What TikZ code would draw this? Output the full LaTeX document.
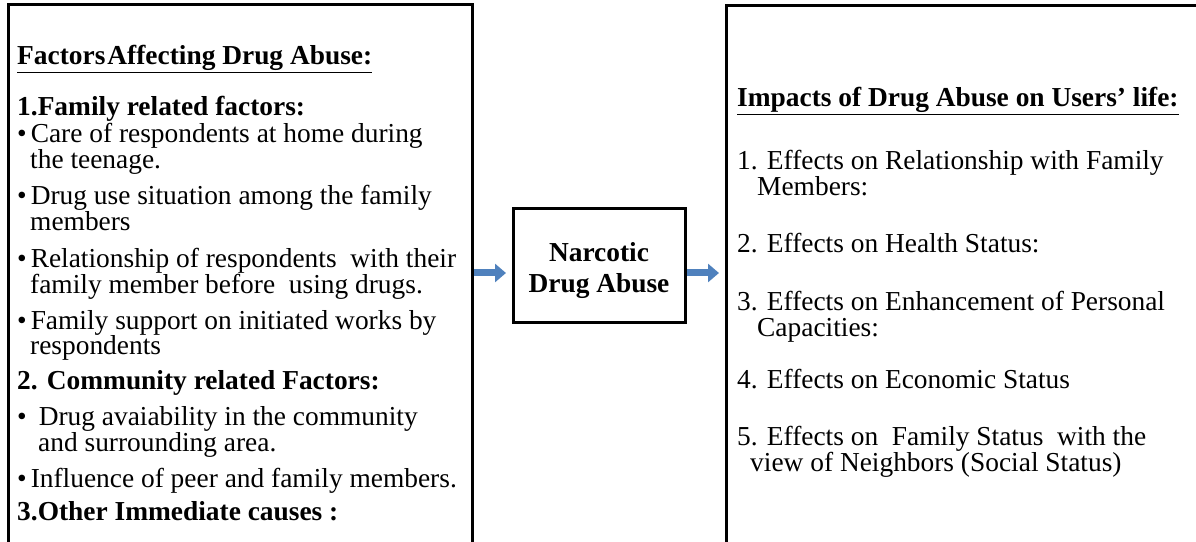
\documentclass[tikz,border=0pt]{standalone}
\usepackage{fontspec}
\setmainfont{Liberation Serif}
\usetikzlibrary{arrows.meta}
\definecolor{arrowblue}{HTML}{4F81BD}
\tikzset{
  txt/.style={anchor=base west, inner sep=0pt, font=\fontsize{27.4}{26}\selectfont},
  btxt/.style={txt, font=\fontsize{27.4}{26}\selectfont\bfseries},
  frame/.style={draw=black, line width=3pt},
  blockarrow/.style={draw=arrowblue, line width=7pt, -{Triangle[length=11pt,width=18pt]}}
}
\begin{document}
\begin{tikzpicture}[x=1pt,y=1pt]
\useasboundingbox (0,0) rectangle (1196,541);
\clip (0,0) rectangle (1196,541);
% outer frames (cut off by the picture edges)
\coordinate (lbtl) at (8,536);
\coordinate (lbbr) at (472,-20);
\coordinate (rbtl) at (726,535);
\coordinate (rbbr) at (1220,-20);
\draw[frame] (lbtl) rectangle (lbbr);
\draw[frame] (rbtl) rectangle (rbbr);
% centre box
\node[frame, minimum width=172pt, minimum height=114pt, inner sep=0pt] (mid) at (599,275) {};
\node[btxt, anchor=base] (n1) at (599,279) {Narcotic};
\node[btxt, anchor=base] (n2) at (599,248) {Drug Abuse};
% arrows
\coordinate (la1) at (474,268);
\coordinate (la2) at (506,268);
\coordinate (ra1) at (687,268);
\coordinate (ra2) at (719,268);
\draw[blockarrow] (la1) -- (la2);
\draw[blockarrow] (ra1) -- (ra2);
% left text
\node[btxt] (l0) at (17,476) {\underline{Factors\hspace{2pt}Affecting Drug Abuse:}};
\node[btxt] (l1) at (17,425) {1.Family related factors:};
\node[txt] (l2) at (17,398) {\textbullet\hspace{4pt}Care of respondents at home during};
\node[txt] (l3) at (30,372) {the teenage.};
\node[txt] (l4) at (17,336) {\textbullet\hspace{4pt}Drug use situation among the family};
\node[txt] (l5) at (30,310) {members};
\node[txt] (l6) at (17,273) {\textbullet\hspace{4pt}Relationship of respondents\ \ with their};
\node[txt] (l7) at (30,247) {family member before\ \ using drugs.};
\node[txt] (l8) at (17,211) {\textbullet\hspace{4pt}Family support on initiated works by};
\node[txt] (l9) at (30,186) {respondents};
\node[btxt] (l10) at (17,151) {2. Community related Factors:};
\node[txt] (l11) at (17,116) {\textbullet\hspace{12pt}Drug avaiability in the community};
\node[txt] (l12) at (38,90) {and surrounding area.};
\node[txt] (l13) at (17,54) {\textbullet\hspace{4pt}Influence of peer and family members.};
\node[btxt] (l14) at (17,21) {3.Other Immediate causes :};
% right text
\node[btxt] (r0) at (737,434) {\underline{Impacts of Drug Abuse on Users’ life:}};
\node[txt] (r1) at (737,371) {1. Effects on Relationship with Family};
\node[txt] (r2) at (757,345) {Members:};
\node[txt] (r3) at (737,288) {2. Effects on Health Status:};
\node[txt] (r4) at (737,230) {3. Effects on Enhancement of Personal};
\node[txt] (r5) at (757,204) {Capacities:};
\node[txt] (r6) at (737,153) {4. Effects on Economic Status};
\node[txt] (r7) at (737,96) {5. Effects on\ \ Family Status\ \ with the};
\node[txt] (r8) at (750,70) {view of Neighbors (Social Status)};
\end{tikzpicture}
\end{document}
